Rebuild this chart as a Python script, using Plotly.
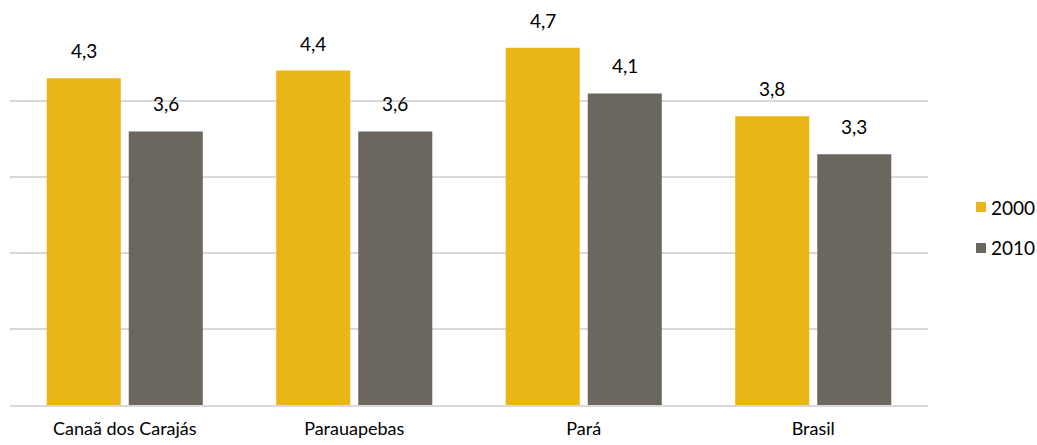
import plotly.graph_objects as go

# Categories and the two census years
categorias = ["Canaã dos Carajás", "Parauapebas", "Pará", "Brasil"]
valores_2000 = [4.3, 4.4, 4.7, 3.8]
valores_2010 = [3.6, 3.6, 4.1, 3.3]
anos = ["2000", "2010"]

cor_2000 = "#EAB516"
cor_2010 = "#6B665E"
fonte = "Lato"
tam = 19


def fmt(v):
    return f"{v:.1f}".replace(".", ",")


fig = go.Figure()
fig.add_trace(go.Bar(name=anos[0], x=categorias, y=valores_2000,
                     marker=dict(color=cor_2000, line=dict(width=0))))
fig.add_trace(go.Bar(name=anos[1], x=categorias, y=valores_2010,
                     marker=dict(color=cor_2010, line=dict(width=0))))

# Value labels above each bar
for serie, desloc in ((valores_2000, -41), (valores_2010, 41)):
    for cat, v in zip(categorias, serie):
        fig.add_annotation(x=cat, y=v, text=fmt(v), showarrow=False,
                           xshift=desloc, yshift=14, yanchor="bottom",
                           font=dict(family=fonte, size=tam, color="#000000"))

# Legend on the right: small square swatch followed by the year
larg = 918.0
alt = 380.0
for ano, cor, ypx in ((anos[0], cor_2000, 207), (anos[1], cor_2010, 248)):
    yc = (405 - ypx) / alt
    fig.add_shape(type="rect", xref="paper", yref="paper",
                  x0=(976 - 10) / larg, x1=(986 - 10) / larg,
                  y0=yc - 5 / alt, y1=yc + 5 / alt,
                  fillcolor=cor, line=dict(width=0))
    fig.add_annotation(xref="paper", yref="paper", x=(989 - 10) / larg, y=yc,
                       xanchor="left", yanchor="middle", text=ano,
                       showarrow=False,
                       font=dict(family=fonte, size=tam, color="#000000"))

fig.update_layout(
    width=1037, height=445,
    margin=dict(l=10, r=109, t=25, b=40),
    paper_bgcolor="white", plot_bgcolor="white",
    barmode="group", bargap=0.285, bargroupgap=0.0976,
    font=dict(family=fonte, size=tam, color="#000000"),
    showlegend=False,
)
fig.update_xaxes(showgrid=False, showline=True, linecolor="#D9D9D9",
                 linewidth=2, ticks="", ticklabelstandoff=6,
                 tickfont=dict(size=18), automargin=False)
fig.update_yaxes(range=[0, 5], dtick=1, showgrid=True, gridcolor="#D9D9D9",
                 gridwidth=2, showticklabels=False, zeroline=False,
                 showline=False, automargin=False)

fig.write_html("out.html")
